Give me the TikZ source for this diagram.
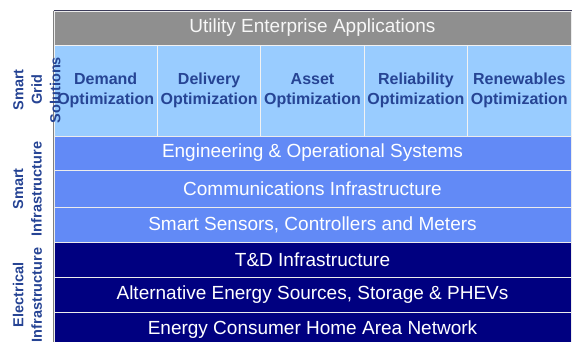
\documentclass[tikz,border=0pt]{standalone}
\usepackage{fontspec}
\setmainfont{Liberation Sans}
\usetikzlibrary{positioning}

\definecolor{appgray}{RGB}{143,143,143}
\definecolor{solblue}{RGB}{153,204,255}
\definecolor{infblue}{RGB}{98,138,246}
\definecolor{elecnavy}{RGB}{0,0,128}
\definecolor{labelblue}{RGB}{38,68,148}
\definecolor{edgedark}{RGB}{60,60,90}

\tikzset{
  layer/.style={rectangle, draw=white!85!gray, line width=1pt, minimum width=517, minimum height=#1, inner sep=0pt, text=white, font=\fontsize{19}{22}\selectfont},
  cell/.style={rectangle, draw=white!90!gray, line width=1pt, fill=solblue, minimum width=103.4, minimum height=91, inner sep=0pt, align=center, text=labelblue, font=\fontsize{16}{20}\selectfont\bfseries},
  side/.style={rotate=90, align=center, inner sep=0pt, text=labelblue, font=\fontsize{14.5}{18.5}\selectfont\bfseries}
}

\begin{document}
\begin{tikzpicture}[x=1pt,y=-1pt]
            \useasboundingbox (0,0) rectangle (573,341);

            % Enterprise layer
            \node[layer=34, fill=appgray, text=white!94!gray] (apps) at (312.5,28) {Utility Enterprise Applications};

            % Smart grid solutions
            \node[cell] (demand) at (105.7,90.5) {Demand\\Optimization};
            \node[cell] (delivery) at (209.1,90.5) {Delivery\\Optimization};
            \node[cell] (asset) at (312.5,90.5) {Asset\\Optimization};
            \node[cell] (reliab) at (415.9,90.5) {Reliability\\Optimization};
            \node[cell] (renew) at (519.3,90.5) {Renewables\\Optimization};

            % Smart infrastructure
            \node[layer=34, fill=infblue] (eng) at (312.5,153) {Engineering \& Operational Systems};
            \node[layer=37, fill=infblue] (comm) at (312.5,188.5) {Communications Infrastructure};
            \node[layer=35, fill=infblue] (sensors) at (312.5,224.5) {Smart Sensors, Controllers and Meters};

            % Electrical infrastructure
            \node[layer=35, fill=elecnavy] (td) at (312.5,259.5) {T\&D Infrastructure};
            \node[layer=35, fill=elecnavy] (alt) at (312.5,294.5) {Alternative Energy Sources, Storage \& PHEVs};
            \node[layer=35, fill=elecnavy] (home) at (312.5,329.5) {Energy Consumer Home Area Network};

            % Edges
            \draw[edgedark, line width=1pt] (apps.north west) -- (apps.north east);
            \draw[gray, line width=1pt] (apps.north west) -- (home.south west);

            % Side labels
            \node[side] (sgs) at (37,90) {Smart\\Grid\\Solutions};
            \node[side] (sinf) at (27.5,189) {Smart\\Infrastructure};
            \node[side] (einf) at (27.5,295) {Electrical\\Infrastructure};

        \end{tikzpicture}
\end{document}
